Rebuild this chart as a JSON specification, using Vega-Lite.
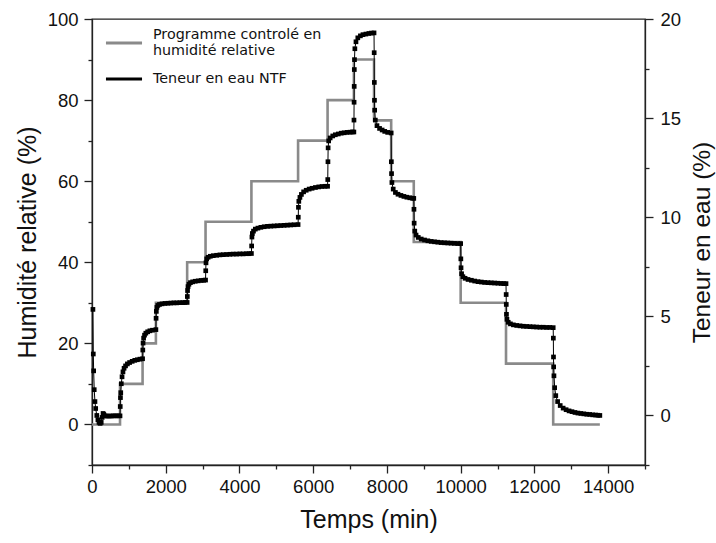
{
  "$schema": "https://vega.github.io/schema/vega-lite/v6.json",
  "width": 553,
  "height": 446,
  "autosize": {"type": "none"},
  "padding": {"left": 92, "top": 19, "right": 71, "bottom": 78},
  "background": "white",
  "config": {
    "view": {"stroke": "#222222", "strokeWidth": 1.3},
    "axis": {
      "grid": false,
      "domainColor": "#222222",
      "domainWidth": 1.3,
      "tickColor": "#222222",
      "tickWidth": 1.3,
      "labelFont": "Liberation Sans",
      "labelFontSize": 18.5,
      "labelColor": "#111111",
      "titleFont": "Liberation Sans",
      "titleFontSize": 25,
      "titleFontWeight": "normal",
      "titleColor": "#111111"
    },
    "legend": {
      "labelFont": "DejaVu Sans",
      "labelFontSize": 14.3,
      "labelColor": "#111111",
      "labelLimit": 400
    }
  },
  "datasets": {
    "programme": [
      {"t": 0, "rh": 0}, {"t": 760, "rh": 10}, {"t": 1372, "rh": 20}, {"t": 1733, "rh": 30},
      {"t": 2581, "rh": 40}, {"t": 3080, "rh": 50}, {"t": 4324, "rh": 60}, {"t": 5590, "rh": 70},
      {"t": 6390, "rh": 80}, {"t": 7103, "rh": 90}, {"t": 7650, "rh": 75}, {"t": 8115, "rh": 60},
      {"t": 8728, "rh": 45}, {"t": 10000, "rh": 30}, {"t": 11230, "rh": 15}, {"t": 12510, "rh": 0},
      {"t": 13775, "rh": 0}
    ],
    "ntf": [
      {"t":25,"w":5.35},{"t":35,"w":3.1},{"t":45,"w":2.25},{"t":60,"w":1.3},{"t":80,"w":0.7},{"t":100,"w":0.35},{"t":130,"w":0.0},{"t":160,"w":-0.22},{"t":190,"w":-0.35},{"t":220,"w":-0.4},{"t":250,"w":-0.35},{"t":275,"w":-0.1},{"t":300,"w":0.1},{"t":320,"w":0.05},{"t":350,"w":-0.02},{"t":400,"w":-0.03},{"t":460,"w":-0.03},{"t":520,"w":-0.03},{"t":580,"w":-0.02},{"t":640,"w":-0.02},{"t":700,"w":-0.02},{"t":760,"w":-0.02},
      {"t":766,"w":0.45},{"t":772,"w":0.9},{"t":780,"w":1.15},{"t":795,"w":1.6},{"t":815,"w":1.95},{"t":840,"w":2.2},{"t":870,"w":2.38},{"t":910,"w":2.5},{"t":960,"w":2.6},{"t":1020,"w":2.67},{"t":1090,"w":2.73},{"t":1160,"w":2.78},{"t":1230,"w":2.81},{"t":1300,"w":2.84},{"t":1372,"w":2.86},
      {"t":1378,"w":3.3},{"t":1385,"w":3.65},{"t":1400,"w":3.9},{"t":1425,"w":4.05},{"t":1460,"w":4.15},{"t":1510,"w":4.22},{"t":1570,"w":4.27},{"t":1640,"w":4.3},{"t":1733,"w":4.33},
      {"t":1738,"w":4.9},{"t":1745,"w":5.25},{"t":1760,"w":5.45},{"t":1785,"w":5.55},{"t":1830,"w":5.6},{"t":1900,"w":5.63},{"t":1980,"w":5.65},{"t":2060,"w":5.66},{"t":2140,"w":5.67},{"t":2220,"w":5.68},{"t":2300,"w":5.68},{"t":2380,"w":5.69},{"t":2460,"w":5.69},{"t":2520,"w":5.7},{"t":2581,"w":5.7},
      {"t":2586,"w":6.0},{"t":2592,"w":6.3},{"t":2605,"w":6.5},{"t":2630,"w":6.62},{"t":2670,"w":6.7},{"t":2730,"w":6.74},{"t":2800,"w":6.77},{"t":2880,"w":6.79},{"t":2960,"w":6.81},{"t":3030,"w":6.82},{"t":3080,"w":6.83},
      {"t":3085,"w":7.3},{"t":3092,"w":7.7},{"t":3110,"w":7.9},{"t":3150,"w":7.98},{"t":3210,"w":8.03},{"t":3290,"w":8.06},{"t":3380,"w":8.08},{"t":3470,"w":8.1},{"t":3560,"w":8.11},{"t":3650,"w":8.12},{"t":3740,"w":8.13},{"t":3830,"w":8.14},{"t":3920,"w":8.14},{"t":4010,"w":8.15},{"t":4100,"w":8.15},{"t":4190,"w":8.16},{"t":4260,"w":8.16},{"t":4324,"w":8.17},
      {"t":4330,"w":8.55},{"t":4338,"w":9.0},{"t":4350,"w":9.18},{"t":4380,"w":9.3},{"t":4430,"w":9.4},{"t":4500,"w":9.45},{"t":4580,"w":9.49},{"t":4670,"w":9.52},{"t":4760,"w":9.54},{"t":4850,"w":9.55},{"t":4940,"w":9.56},{"t":5030,"w":9.57},{"t":5120,"w":9.58},{"t":5210,"w":9.59},{"t":5300,"w":9.6},{"t":5390,"w":9.61},{"t":5480,"w":9.62},{"t":5590,"w":9.63},
      {"t":5595,"w":10.0},{"t":5600,"w":10.5},{"t":5610,"w":10.8},{"t":5640,"w":11.0},{"t":5680,"w":11.15},{"t":5740,"w":11.28},{"t":5810,"w":11.36},{"t":5890,"w":11.42},{"t":5970,"w":11.46},{"t":6060,"w":11.5},{"t":6150,"w":11.53},{"t":6240,"w":11.55},{"t":6320,"w":11.56},{"t":6390,"w":11.56},
      {"t":6395,"w":11.9},{"t":6400,"w":12.8},{"t":6405,"w":13.5},{"t":6420,"w":13.85},{"t":6460,"w":14.0},{"t":6530,"w":14.1},{"t":6600,"w":14.16},{"t":6680,"w":14.2},{"t":6760,"w":14.24},{"t":6840,"w":14.26},{"t":6920,"w":14.28},{"t":7000,"w":14.29},{"t":7060,"w":14.3},{"t":7103,"w":14.3},
      {"t":7106,"w":14.9},{"t":7109,"w":15.8},{"t":7112,"w":16.6},{"t":7115,"w":17.45},{"t":7120,"w":17.95},{"t":7130,"w":18.5},{"t":7160,"w":18.85},{"t":7210,"w":19.05},{"t":7280,"w":19.15},{"t":7350,"w":19.21},{"t":7430,"w":19.24},{"t":7510,"w":19.27},{"t":7580,"w":19.29},{"t":7650,"w":19.3},
      {"t":7654,"w":18.3},{"t":7658,"w":16.8},{"t":7662,"w":15.9},{"t":7667,"w":15.4},{"t":7685,"w":14.9},{"t":7730,"w":14.62},{"t":7800,"w":14.48},{"t":7870,"w":14.4},{"t":7940,"w":14.33},{"t":8020,"w":14.28},{"t":8115,"w":14.25},
      {"t":8120,"w":12.8},{"t":8125,"w":12.2},{"t":8135,"w":11.75},{"t":8170,"w":11.42},{"t":8230,"w":11.25},{"t":8300,"w":11.16},{"t":8380,"w":11.1},{"t":8460,"w":11.05},{"t":8540,"w":11.01},{"t":8620,"w":10.98},{"t":8690,"w":10.96},{"t":8728,"w":10.95},
      {"t":8733,"w":10.4},{"t":8738,"w":9.7},{"t":8755,"w":9.3},{"t":8790,"w":9.1},{"t":8850,"w":8.98},{"t":8930,"w":8.9},{"t":9020,"w":8.85},{"t":9110,"w":8.81},{"t":9200,"w":8.78},{"t":9290,"w":8.76},{"t":9380,"w":8.74},{"t":9470,"w":8.72},{"t":9560,"w":8.71},{"t":9650,"w":8.7},{"t":9740,"w":8.69},{"t":9830,"w":8.68},{"t":9920,"w":8.67},{"t":10000,"w":8.67},
      {"t":10005,"w":7.9},{"t":10010,"w":7.45},{"t":10025,"w":7.15},{"t":10060,"w":7.0},{"t":10120,"w":6.92},{"t":10200,"w":6.86},{"t":10290,"w":6.82},{"t":10380,"w":6.78},{"t":10470,"w":6.75},{"t":10560,"w":6.73},{"t":10650,"w":6.71},{"t":10740,"w":6.7},{"t":10830,"w":6.69},{"t":10920,"w":6.68},{"t":11010,"w":6.67},{"t":11100,"w":6.66},{"t":11170,"w":6.65},{"t":11230,"w":6.65},
      {"t":11234,"w":6.1},{"t":11237,"w":5.6},{"t":11242,"w":5.1},{"t":11255,"w":4.85},{"t":11290,"w":4.7},{"t":11350,"w":4.62},{"t":11430,"w":4.57},{"t":11520,"w":4.54},{"t":11610,"w":4.52},{"t":11700,"w":4.5},{"t":11790,"w":4.49},{"t":11880,"w":4.48},{"t":11970,"w":4.47},{"t":12060,"w":4.46},{"t":12150,"w":4.45},{"t":12240,"w":4.45},{"t":12330,"w":4.44},{"t":12420,"w":4.44},{"t":12510,"w":4.43},
      {"t":12514,"w":3.9},{"t":12518,"w":2.95},{"t":12522,"w":2.45},{"t":12530,"w":2.0},{"t":12550,"w":1.4},{"t":12580,"w":1.0},{"t":12630,"w":0.7},{"t":12700,"w":0.5},{"t":12780,"w":0.37},{"t":12860,"w":0.29},{"t":12940,"w":0.23},{"t":13020,"w":0.19},{"t":13100,"w":0.15},{"t":13180,"w":0.12},{"t":13260,"w":0.1},{"t":13340,"w":0.08},{"t":13420,"w":0.06},{"t":13500,"w":0.05},{"t":13580,"w":0.03},{"t":13660,"w":0.02},{"t":13720,"w":0.01},{"t":13775,"w":0.0}
    ]
  },
  "encoding": {
    "x": {
      "field": "t",
      "type": "quantitative",
      "scale": {"domain": [0, 15000], "nice": false, "zero": false},
      "axis": {
        "title": "Temps (min)",
        "values": [0,1000,2000,3000,4000,5000,6000,7000,8000,9000,10000,11000,12000,13000,14000,15000],
        "labelExpr": "(datum.value % 2000 === 0 && datum.value <= 14000) ? format(datum.value, 'd') : ''",
        "tickSize": {"condition": {"test": "datum.value % 2000 !== 0 || datum.value > 14000", "value": 4}, "value": 8},
        "labelPadding": 4,
        "labelFlush": false,
        "labelOverlap": false,
        "titlePadding": 12
      }
    }
  },
  "layer": [
    {
      "data": {"name": "programme"},
      "mark": {"type": "line", "interpolate": "step-after", "strokeWidth": 2.6},
      "encoding": {
        "y": {
          "field": "rh",
          "type": "quantitative",
          "scale": {"domain": [-10, 100], "nice": false, "zero": false},
          "axis": {
            "title": "Humidité relative (%)",
            "values": [-10,0,10,20,30,40,50,60,70,80,90,100],
            "labelExpr": "(datum.value % 20 === 0 && datum.value >= 0) ? datum.label : ''",
            "tickSize": {"condition": {"test": "datum.value % 20 !== 0", "value": 4}, "value": 8},
            "labelPadding": 6,
            "labelFlush": false,
            "labelOverlap": false,
            "titlePadding": 7
          }
        },
        "color": {
          "datum": "Programme controlé en humidité relative",
          "type": "nominal",
          "scale": {
            "domain": ["Programme controlé en humidité relative", "Teneur en eau NTF"],
            "range": ["#8a8a8a", "#000000"]
          },
          "legend": {
            "title": null,
            "orient": "none",
            "legendX": 12,
            "legendY": 4,
            "symbolType": "stroke",
            "symbolSize": 1300,
            "symbolStrokeWidth": 3,
            "labelOffset": 9,
            "labelLimit": 400,
            "rowPadding": -11,
            "padding": 0,
            "labelExpr": "datum.label == 'Programme controlé en humidité relative' ? ['Programme controlé en', 'humidité relative'] : datum.label",
            "encode": {
              "labels": {
                "update": {
                  "baseline": {"signal": "datum.value == 'Programme controlé en humidité relative' ? 'line-bottom' : 'middle'"}
                }
              }
            }
          }
        }
      }
    },
    {
      "data": {"name": "ntf"},
      "encoding": {
        "y": {
          "field": "w",
          "type": "quantitative",
          "scale": {"domain": [-2.5, 20], "nice": false, "zero": false},
          "axis": {
            "orient": "right",
            "title": "Teneur en eau (%)",
            "titleAngle": 270,
            "titleBaseline": "top",
            "titleFontSize": 24.5,
            "values": [-2.5,0,2.5,5,7.5,10,12.5,15,17.5,20],
            "labelExpr": "(datum.value % 5 === 0) ? datum.label : ''",
            "tickSize": {"condition": {"test": "datum.value % 5 !== 0", "value": 4}, "value": 8},
            "labelPadding": 7,
            "labelFlush": false,
            "labelOverlap": false,
            "titlePadding": 10
          }
        }
      },
      "layer": [
        {
          "mark": {"type": "line", "strokeWidth": 1},
          "encoding": {"color": {"datum": "Teneur en eau NTF", "type": "nominal"}}
        },
        {
          "mark": {"type": "point", "shape": "square", "filled": true, "size": 22, "color": "#000000", "opacity": 1}
        }
      ]
    }
  ],
  "resolve": {"scale": {"y": "independent"}}
}
